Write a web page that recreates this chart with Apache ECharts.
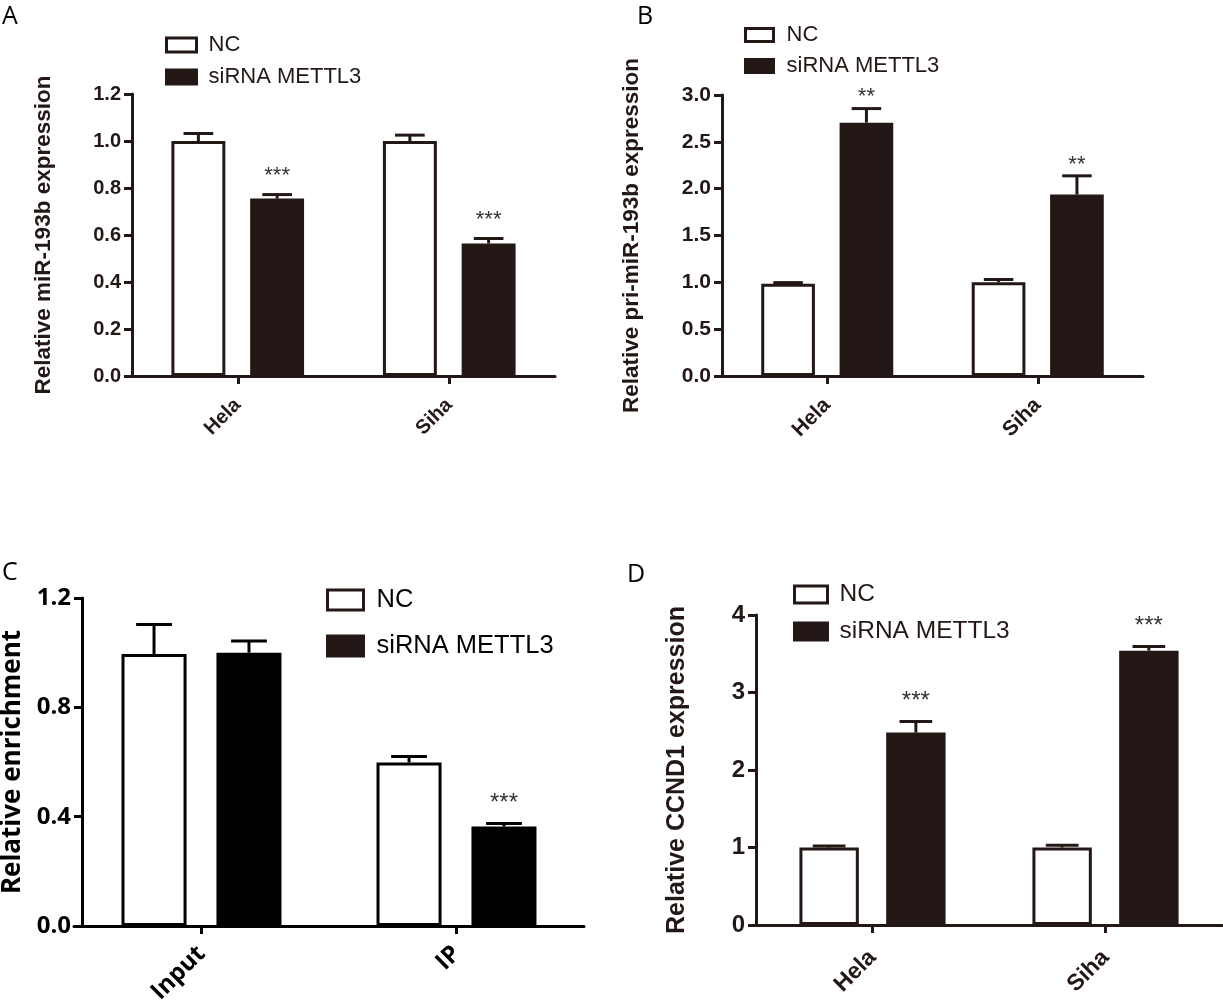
<!DOCTYPE html>
<html>
<head>
<meta charset="utf-8">
<title>METTL3 / miR-193b</title>
<script src="https://cdn.jsdelivr.net/npm/echarts@6/dist/echarts.min.js"></script>
<style>
    html, body { margin: 0; padding: 0; background: #fff; }
    #chart { width: 1223px; height: 1001px; }
</style>
</head>
<body>
<div id="chart"></div>
<script>
(function () {
    'use strict';

    var seriesNames = ['NC', 'siRNA METTL3'];

    // A - relative miR-193b expression
    var catsA = ['Hela', 'Siha'];
    var ncA = [1.0, 1.0];
    var ncErrA = [0.032, 0.025];
    var siA = [0.755, 0.564];
    var siErrA = [0.017, 0.021];
    var sigA = ['***', '***'];
    var yTicksA = [0, 1.2, 0.2];

    // B - relative pri-miR-193b expression
    var catsB = ['Hela', 'Siha'];
    var ncB = [0.985, 1.0];
    var ncErrB = [0.012, 0.03];
    var siB = [2.705, 1.937];
    var siErrB = [0.15, 0.2];
    var sigB = ['**', '**'];
    var yTicksB = [0, 3.0, 0.5];

    // C - relative enrichment
    var catsC = ['Input', 'IP'];
    var ncC = [0.995, 0.598];
    var ncErrC = [0.108, 0.022];
    var siC = [1.0, 0.364];
    var siErrC = [0.043, 0.011];
    var sigC = ['', '***'];
    var yTicksC = [0, 1.2, 0.4];

    // D - relative CCND1 expression
    var catsD = ['Hela', 'Siha'];
    var ncD = [1.0, 1.0];
    var ncErrD = [0.02, 0.03];
    var siD = [2.484, 3.54];
    var siErrD = [0.142, 0.054];
    var sigD = ['***', '***'];
    var yTicksD = [0, 4, 1];

    var DARK = '#231815';
    var BAR_W = 0.255;
    var BAR_GAP = 0.46;
    var CAP = 0.55;
    var HELV = "'Liberation Sans', Arial, Helvetica, sans-serif";
    var MYRIAD = "'Open Sans', 'Liberation Sans', sans-serif";

    function errorBars(side, errs, sigs, opt) {
        return function (params, api) {
            var i = api.value(0);
            var v = api.value(1);
            var e = errs[params.dataIndex];
            var band = api.size([1, 0])[0];
            var w = band * BAR_W;
            var base = api.coord([i, v]);
            var x = base[0] + side * w * (1 + BAR_GAP) / 2;
            var yTop = api.coord([i, v + e])[1];
            var half = w * CAP / 2;
            var line = { stroke: opt.color, lineWidth: 3 };
            var children = [
                { type: 'line', shape: { x1: x, y1: base[1], x2: x, y2: yTop }, style: line },
                { type: 'line', shape: { x1: x - half, y1: yTop, x2: x + half, y2: yTop }, style: line }
            ];
            var s = sigs && sigs[params.dataIndex];
            if (s) {
                children.push({
                    type: 'text',
                    x: x,
                    y: yTop - opt.starGap + 0.22 * opt.starSize,
                    style: {
                        text: s,
                        fill: '#333',
                        font: opt.starSize + 'px ' + HELV,
                        align: 'center',
                        verticalAlign: 'middle'
                    }
                });
            }
            return { type: 'group', children: children };
        };
    }

    function panel(idx, p) {
        var grid = {
            left: p.rect[0], top: p.rect[1], width: p.rect[2], height: p.rect[3],
            containLabel: false, outerBoundsMode: 'none'
        };
        var axisLine = { show: true, lineStyle: { color: p.color, width: 3 } };
        var xAxis = {
            gridIndex: idx,
            type: 'category',
            data: p.cats,
            boundaryGap: true,
            axisLine: axisLine,
            axisTick: { show: true, alignWithLabel: true, length: 8, lineStyle: { color: p.color, width: 3 } },
            axisLabel: {
                interval: 0, rotate: 45, margin: p.xMargin, color: p.color,
                fontSize: p.xFont, fontWeight: 'bold', fontFamily: p.family
            },
            splitLine: { show: false }
        };
        var yAxis = {
            gridIndex: idx,
            type: 'value',
            min: p.yTicks[0], max: p.yTicks[1], interval: p.yTicks[2],
            offset: p.yOffset || 0,
            axisLine: axisLine,
            axisTick: { show: true, length: 8, lineStyle: { color: p.color, width: 3 } },
            axisLabel: {
                margin: 11, color: p.color, fontSize: p.yFont, fontWeight: 'bold', fontFamily: p.family,
                formatter: function (val) { return val.toFixed(p.decimals); }
            },
            splitLine: { show: false },
            name: p.yName,
            nameLocation: 'middle',
            nameGap: p.nameGap,
            nameTextStyle: { color: p.color, fontSize: p.nameFont, fontWeight: 'bold', fontFamily: p.family }
        };
        var common = { xAxisIndex: idx, yAxisIndex: idx, silent: true };
        var series = [
            Object.assign({
                type: 'bar', name: seriesNames[0], data: p.nc,
                barWidth: (BAR_W * 100) + '%', barGap: (BAR_GAP * 100) + '%',
                itemStyle: { color: '#fff', borderColor: p.color, borderWidth: 3 }, z: 2
            }, common),
            Object.assign({
                type: 'bar', name: seriesNames[1], data: p.si,
                barWidth: (BAR_W * 100) + '%', barGap: (BAR_GAP * 100) + '%',
                itemStyle: { color: p.fill, borderColor: p.fill, borderWidth: 3 }, z: 2
            }, common),
            Object.assign({
                type: 'custom', z: 3,
                data: p.nc.map(function (v, i) { return [i, v]; }),
                encode: { x: 0, y: 1 },
                renderItem: errorBars(-1, p.ncErr, null, p)
            }, common),
            Object.assign({
                type: 'custom', z: 3,
                data: p.si.map(function (v, i) { return [i, v]; }),
                encode: { x: 0, y: 1 },
                renderItem: errorBars(1, p.siErr, p.sig, p)
            }, common)
        ];
        var lg = p.legend;
        var legend = {
            data: seriesNames,
            orient: 'vertical',
            left: lg[0], top: lg[1],
            itemWidth: lg[2], itemHeight: lg[3], itemGap: lg[4],
            icon: 'rect',
            selectedMode: false,
            itemStyle: { borderWidth: 3 },
            textStyle: { color: p.color, fontSize: lg[5], fontFamily: HELV, padding: [0, 0, 0, lg[6]] }
        };
        return { grid: grid, xAxis: xAxis, yAxis: yAxis, series: series, legend: legend };
    }

    var panels = [
        panel(0, {
            cats: catsA, nc: ncA, ncErr: ncErrA, si: siA, siErr: siErrA, sig: sigA, yTicks: yTicksA,
            decimals: 1, rect: [132, 94, 423, 282], color: DARK, fill: DARK, family: HELV,
            xFont: 20, yFont: 20, nameFont: 22.5, nameGap: 77, xMargin: 26,
            yName: 'Relative miR-193b expression', starGap: 23, starSize: 22,
            legend: [160, 29, 30, 14, 10, 22, 7]
        }),
        panel(1, {
            cats: catsB, nc: ncB, ncErr: ncErrB, si: siB, siErr: siErrB, sig: sigB, yTicks: yTicksB,
            decimals: 1, rect: [722, 95, 421, 281], color: DARK, fill: DARK, family: HELV,
            xFont: 21, yFont: 21, nameFont: 22.5, nameGap: 79, xMargin: 26,
            yName: 'Relative pri-miR-193b expression', starGap: 16, starSize: 22,
            legend: [739, 19, 28, 13, 9, 22, 8]
        }),
        panel(2, {
            cats: catsC, nc: ncC, ncErr: ncErrC, si: siC, siErr: siErrC, sig: sigC, yTicks: yTicksC,
            decimals: 1, rect: [74, 598, 510, 328], yOffset: -8, color: '#000', fill: '#000', family: MYRIAD,
            xFont: 24, yFont: 24, nameFont: 26, nameGap: 56, xMargin: 24,
            yName: 'Relative enrichment', starGap: 25, starSize: 24,
            legend: [321, 582, 36, 20, 20, 25.5, 8]
        }),
        panel(3, {
            cats: catsD, nc: ncD, ncErr: ncErrD, si: siD, siErr: siErrD, sig: sigD, yTicks: yTicksD,
            decimals: 0, rect: [756, 615, 466, 310], color: DARK, fill: DARK, family: HELV,
            xFont: 23, yFont: 24, nameFont: 25, nameGap: 66, xMargin: 29,
            yName: 'Relative CCND1 expression', starGap: 25, starSize: 24,
            legend: [788, 577, 33, 17, 12, 24.5, 7]
        })
    ];

    var letters = [['A', 2, 4], ['B', 637, 4], ['C', 2, 560], ['D', 627, 562]];

    var option = {
        backgroundColor: '#fff',
        animation: false,
        grid: panels.map(function (p) { return p.grid; }),
        xAxis: panels.map(function (p) { return p.xAxis; }),
        yAxis: panels.map(function (p) { return p.yAxis; }),
        legend: panels.map(function (p) { return p.legend; }),
        series: panels.reduce(function (acc, p) { return acc.concat(p.series); }, []),
        graphic: letters.map(function (l) {
            return {
                type: 'text', left: l[1], top: l[2],
                style: { text: l[0], fill: '#000', font: '25px ' + MYRIAD }
            };
        })
    };

    var chart = echarts.init(document.getElementById('chart'), null, { renderer: 'canvas' });
    chart.setOption(option);
})();
</script>
</body>
</html>
